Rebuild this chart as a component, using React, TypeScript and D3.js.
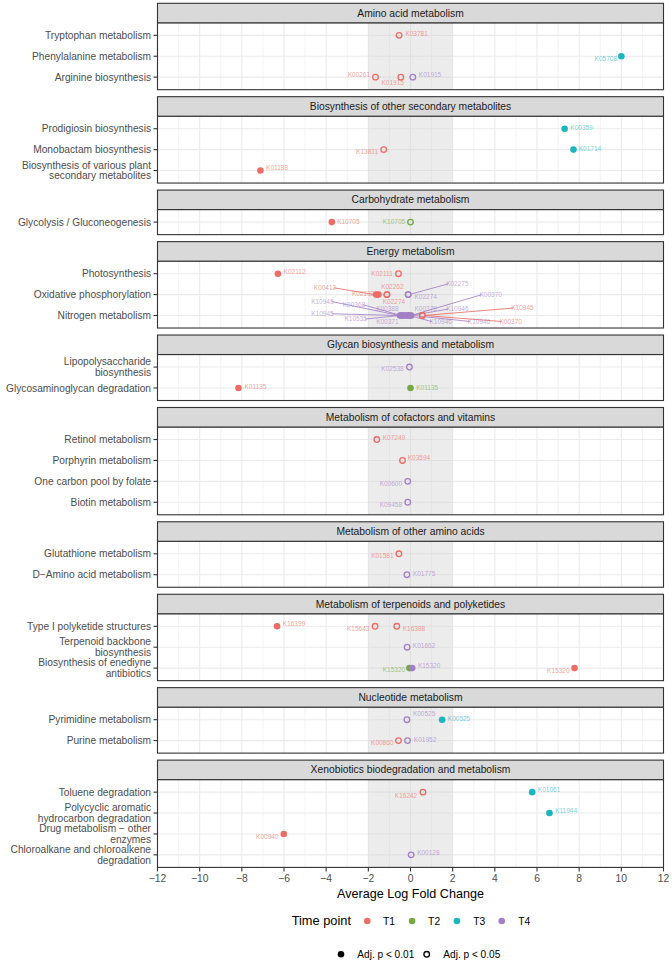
import React from "react";
import * as d3 from "d3";

const panelNames = [
  "Amino acid metabolism",
  "Biosynthesis of other secondary metabolites",
  "Carbohydrate metabolism",
  "Energy metabolism",
  "Glycan biosynthesis and metabolism",
  "Metabolism of cofactors and vitamins",
  "Metabolism of other amino acids",
  "Metabolism of terpenoids and polyketides",
  "Nucleotide metabolism",
  "Xenobiotics biodegradation and metabolism",
];

const pathways = [
  "Tryptophan metabolism",
  "Phenylalanine metabolism",
  "Arginine biosynthesis",
  "Prodigiosin biosynthesis",
  "Monobactam biosynthesis",
  "Biosynthesis of various plant\nsecondary metabolites",
  "Glycolysis / Gluconeogenesis",
  "Photosynthesis",
  "Oxidative phosphorylation",
  "Nitrogen metabolism",
  "Lipopolysaccharide\nbiosynthesis",
  "Glycosaminoglycan degradation",
  "Retinol metabolism",
  "Porphyrin metabolism",
  "One carbon pool by folate",
  "Biotin metabolism",
  "Glutathione metabolism",
  "D\u2212Amino acid metabolism",
  "Type I polyketide structures",
  "Terpenoid backbone\nbiosynthesis",
  "Biosynthesis of enediyne\nantibiotics",
  "Pyrimidine metabolism",
  "Purine metabolism",
  "Toluene degradation",
  "Polycyclic aromatic\nhydrocarbon degradation",
  "Drug metabolism \u2212 other\nenzymes",
  "Chloroalkane and chloroalkene\ndegradation",
];
const pathwayPanel = [0, 0, 0, 1, 1, 1, 2, 3, 3, 3, 4, 4, 5, 5, 5, 5, 6, 6, 7, 7, 7, 8, 8, 9, 9, 9, 9];

const timePoints = ["T1", "T2", "T3", "T4"];
const timeColors = ["#EE6B66", "#74A944", "#1DB6BE", "#A280C6"];

// KO points
const koIds = [
  "K03781", "K05708", "K00261", "K01915", "K01915",
  "K00359", "K13811", "K01714", "K01188",
  "K10705", "K10705",
  "K02112", "K02111", "K00412", "K02132", "K02262", "K02274", "K02274", "K02275",
  "K10945", "K00368", "K00388", "K10945", "K10535", "K00371", "K00370", "K10946", "K00370", "K10946", "K10946",
  "K10945", "K00370",
  "K02538", "K01135", "K01135",
  "K07249", "K03594", "K00600", "K09458",
  "K01581", "K01775",
  "K16399", "K15643", "K16388", "K01662", "K15320", "K15320", "K15320",
  "K00525", "K00525", "K00860", "K01952",
  "K16242", "K01061", "K11944", "K00940", "K00128",
];
const koPathway = [
  0, 1, 2, 2, 2,
  3, 4, 4, 5,
  6, 6,
  7, 7, 8, 8, 8, 8, 8, 8,
  9, 9, 9, 9, 9, 9, 9, 9, 9, 9, 9,
  9, 9,
  10, 11, 11,
  12, 13, 14, 15,
  16, 17,
  18, 18, 18, 19, 20, 20, 20,
  21, 21, 22, 22,
  23, 23, 24, 25, 26,
];
const koTime = [
  0, 2, 0, 0, 3,
  2, 0, 2, 0,
  0, 1,
  0, 0, 0, 0, 0, 0, 3, 3,
  3, 3, 3, 3, 3, 3, 3, 3, 3, 3, 3,
  0, 0,
  3, 0, 1,
  0, 0, 3, 3,
  0, 3,
  0, 0, 0, 3, 1, 3, 0,
  3, 2, 0, 3,
  0, 2, 2, 0, 3,
];
const koLFC = [
  -0.54, 10.0, -1.66, -0.46, 0.11,
  7.31, -1.27, 7.73, -7.12,
  -3.73, 0.0,
  -6.29, -0.57, -1.63, -1.52, -1.12, -1.12, -0.11, -0.11,
  -0.5, -0.4, -0.3, -0.45, -0.35, -0.2, -0.1, -0.05, 0.0, -0.15, 0.03,
  0.56, 0.56,
  -0.05, -8.16, 0.0,
  -1.6, -0.38, -0.13, -0.13,
  -0.55, -0.17,
  -6.33, -1.68, -0.65, -0.16, -0.05, 0.08, 7.78,
  -0.17, 1.5, -0.57, -0.14,
  0.59, 5.77, 6.59, -6.01, 0.03,
];
// 1 = Adj. p < 0.01 (filled), 0 = Adj. p < 0.05 (open)
const koSig = [
  0, 1, 0, 0, 0,
  1, 0, 1, 1,
  1, 0,
  1, 0, 1, 1, 0, 0, 0, 0,
  1, 1, 1, 1, 1, 1, 1, 1, 1, 1, 1,
  0, 0,
  0, 1, 1,
  0, 0, 0, 0,
  0, 0,
  1, 0, 0, 0, 1, 1, 1,
  0, 1, 0, 0,
  0, 1, 1, 1, 0,
];

// repel-style label nudges (pixels, relative to the point)
const labelDx = [
  6.3, -4.3, -5.3, -19.3, 6,
  5.7, -5.7, 5.3, 5.7,
  5.3, -5.3,
  5.7, -5.7, -39.9, -4, -5.7, -4.1, 6.3, 38,
  -88.8, -59.3, -28, -89.8, -58.6, -30.1, 6.1, 36.7, 69, 22.2, 56.7,
  88.9, 77.2,
  -5.7, 6, 5.7,
  6, 5.3, -5.7, -5.7,
  -5.3, 6,
  5.7, -5.7, 6, 5.7, -4.3, 5.7, -5,
  6, 5.7, -5, 6.3,
  -5.7, 5.7, 5.7, -5.3, 6,
];
const labelDy = [
  -1.7, 2.7, -2, 6, -2,
  -1.3, 2.3, -1, -2.3,
  -0.7, 0,
  -2, 0, -6.7, -1.3, -7.4, 7.3, 2, -10.7,
  -14, -10.7, -6.4, -1.7, 3.6, 6, -6.4, -6.4, -20.7, 6, 6,
  -7.4, 6,
  1.3, -1, -0.7,
  -2.3, -2.3, 2.3, 2,
  1.7, -1,
  -2.3, 2, 2, -1.7, 2, -2, 2.3,
  -5.7, -0.7, 1.7, -1.3,
  3.3, -2.3, -2.3, 3, -2.3,
];
const labelEnd = [
  0, 1, 1, 0, 0,
  0, 1, 0, 0,
  0, 1,
  0, 1, 1, 1, 0, 0, 0, 0,
  0, 0, 0, 0, 0, 0, 0, 0, 0, 0, 0,
  0, 0,
  1, 0, 0,
  0, 0, 1, 1,
  1, 0,
  0, 1, 0, 0, 1, 0, 1,
  0, 0, 1, 0,
  1, 0, 0, 1, 0,
];

const xTicks = d3.range(-12, 13, 2);
const xMinor = d3.range(-11, 12, 2);

const W = 672;
const H = 963;
const FONT = "'Liberation Sans', Arial, Helvetica, sans-serif";

export default function App() {
  const left = 157.5;
  const right = 663.5;
  const top0 = 3.3;
  const stripH = 19.5;
  const gap = 7.0;
  const step = 20.9;
  const x = d3.scaleLinear().domain([-12, 12]).range([left, right]);

  let cursor = top0;
  const panels = panelNames.map((name, p) => {
    const rows = pathways.filter((_, i) => pathwayPanel[i] === p);
    const stripTop = cursor;
    const pTop = stripTop + stripH;
    const pH = step * (rows.length + 0.2);
    const pBottom = pTop + pH;
    cursor = pBottom + gap;
    const y = d3.scalePoint<string>().domain(rows).range([pTop, pBottom]).padding(0.6);
    return { name, p, rows, stripTop, pTop, pBottom, y };
  });
  const plotBottom = panels[panels.length - 1].pBottom;

  const labelFs = 6.5;
  const labelW = (s: string) => s.length * 0.575 * labelFs;

  return (
    <svg width={W} height={H} style={{ position: "absolute", left: 0, top: 0, background: "#fff" }} fontFamily={FONT}>
      <rect x={0} y={0} width={W} height={H} fill="#fff" />
      {panels.map((pn) => {
        const pts = koIds.map((_, i) => i).filter((i) => pathwayPanel[koPathway[i]] === pn.p);
        return (
          <g key={pn.name}>
            {/* panel background & grid */}
            <rect x={left} y={pn.pTop} width={right - left} height={pn.pBottom - pn.pTop} fill="#fff" />
            {xMinor.map((v) => (
              <line key={"mn" + v} x1={x(v)} x2={x(v)} y1={pn.pTop} y2={pn.pBottom} stroke="#EBEBEB" strokeWidth={0.6} />
            ))}
            {xTicks.map((v) => (
              <line key={"mj" + v} x1={x(v)} x2={x(v)} y1={pn.pTop} y2={pn.pBottom} stroke="#EBEBEB" strokeWidth={1.1} />
            ))}
            {pn.rows.map((r) => (
              <line key={"h" + r} x1={left} x2={right} y1={pn.y(r)} y2={pn.y(r)} stroke="#EBEBEB" strokeWidth={1.1} />
            ))}
            <rect x={x(-2)} y={pn.pTop} width={x(2) - x(-2)} height={pn.pBottom - pn.pTop} fill="#CFCFCF" fillOpacity={0.4} />
            {/* segments */}
            {pts.map((i) => {
              const px = x(koLFC[i]);
              const py = pn.y(pathways[koPathway[i]])!;
              const w = labelW(koIds[i]);
              const lx0 = labelEnd[i] ? px + labelDx[i] - w : px + labelDx[i];
              const lx1 = lx0 + w;
              const ly = py + labelDy[i];
              const nx = Math.max(lx0, Math.min(lx1, px));
              const ny = Math.max(ly - 3.2, Math.min(ly + 3.2, py));
              const d = Math.hypot(nx - px, ny - py);
              if (d < 12) return null;
              const ux = (nx - px) / d;
              const uy = (ny - py) / d;
              return (
                <line
                  key={"s" + i}
                  x1={px + ux * 3.5}
                  y1={py + uy * 3.5}
                  x2={lx0 + w / 2 + (px > lx1 ? w / 2 - 2 : px < lx0 ? -w / 2 + 2 : 0)}
                  y2={ly}
                  stroke={timeColors[koTime[i]]}
                  strokeOpacity={0.85}
                  strokeWidth={1}
                />
              );
            })}
            {/* points */}
            {pts.map((i) => {
              const px = x(koLFC[i]);
              const py = pn.y(pathways[koPathway[i]])!;
              const c = timeColors[koTime[i]];
              return koSig[i] ? (
                <circle key={"p" + i} cx={px} cy={py} r={3.3} fill={c} />
              ) : (
                <circle key={"p" + i} cx={px} cy={py} r={2.8} fill="none" stroke={c} strokeWidth={1.3} />
              );
            })}
            {/* labels */}
            {pts.map((i) => {
              const px = x(koLFC[i]);
              const py = pn.y(pathways[koPathway[i]])!;
              return (
                <text
                  key={"t" + i}
                  x={px + labelDx[i]}
                  y={py + labelDy[i]}
                  dy="0.35em"
                  fontSize={labelFs}
                  textAnchor={labelEnd[i] ? "end" : "start"}
                  fill={timeColors[koTime[i]]}
                  fillOpacity={0.65}
                >
                  {koIds[i]}
                </text>
              );
            })}
            <rect x={left} y={pn.pTop} width={right - left} height={pn.pBottom - pn.pTop} fill="none" stroke="#333" strokeWidth={1.1} />
            {/* strip */}
            <rect x={left} y={pn.stripTop} width={right - left} height={stripH} fill="#D9D9D9" stroke="#333" strokeWidth={1.1} />
            <text x={(left + right) / 2} y={pn.stripTop + stripH / 2} dy="0.35em" textAnchor="middle" fontSize={10.3} fill="#1A1A1A">
              {pn.name}
            </text>
            {/* y axis */}
            {pn.rows.map((r) => {
              const lines = r.split("\n");
              const yy = pn.y(r)!;
              const lh = 10.6;
              return (
                <g key={"yl" + r}>
                  <line x1={left - 4} x2={left} y1={yy} y2={yy} stroke="#333" strokeWidth={1.1} />
                  <text x={left - 6.5} y={yy - ((lines.length - 1) * lh) / 2} dy="0.35em" textAnchor="end" fontSize={10.2} fill="#4D4D4D">
                    {lines.map((ln, k) => (
                      <tspan key={k} x={left - 6.5} dy={k === 0 ? "0.35em" : lh}>
                        {ln}
                      </tspan>
                    ))}
                  </text>
                </g>
              );
            })}
          </g>
        );
      })}
      {/* x axis */}
      {xTicks.map((v) => (
        <g key={"xt" + v}>
          <line x1={x(v)} x2={x(v)} y1={plotBottom} y2={plotBottom + 4} stroke="#333" strokeWidth={1.1} />
          <text x={x(v)} y={plotBottom + 11} dy="0.35em" textAnchor="middle" fontSize={10.3} fill="#4D4D4D">
            {v < 0 ? "\u2212" + Math.abs(v) : String(v)}
          </text>
        </g>
      ))}
      <text x={(left + right) / 2} y={plotBottom + 26} dy="0.35em" textAnchor="middle" fontSize={12.6} fill="#000">
        Average Log Fold Change
      </text>
      {/* legend: time point */}
      <g>
        <text x={291.7} y={921} dy="0.35em" fontSize={12.8} fill="#000">
          Time point
        </text>
        {timePoints.map((t, k) => (
          <g key={t}>
            <circle cx={367.3 + k * 44.8} cy={921} r={3.3} fill={timeColors[k]} />
            <text x={383 + k * 45.1} y={921} dy="0.35em" fontSize={10.3} fill="#000">
              {t}
            </text>
          </g>
        ))}
      </g>
      {/* legend: significance */}
      <g>
        <circle cx={341} cy={954.3} r={3.3} fill="#000" />
        <text x={357.3} y={954.3} dy="0.35em" fontSize={10.1} fill="#000">
          Adj. p &lt; 0.01
        </text>
        <circle cx={426.7} cy={954.3} r={2.8} fill="none" stroke="#000" strokeWidth={1.3} />
        <text x={443.3} y={954.3} dy="0.35em" fontSize={10.1} fill="#000">
          Adj. p &lt; 0.05
        </text>
      </g>
    </svg>
  );
}
